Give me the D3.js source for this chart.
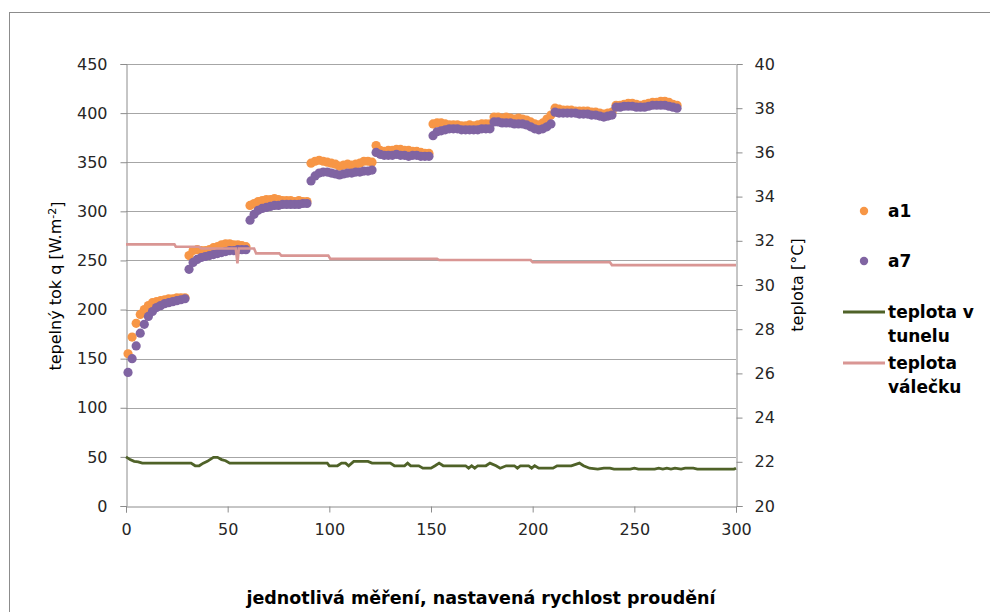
<!DOCTYPE html>
<html>
<head>
<meta charset="utf-8">
<script src="https://cdn.jsdelivr.net/npm/d3@7"></script>
<style>
  body { margin: 0; background: #fff; }
  svg { display: block; font-family: "DejaVu Sans", sans-serif; }
</style>
</head>
<body>
<svg id="chart" width="990" height="612"></svg>
<script>
// measurement number (x) for the a1 / a7 points
const measure = [
  1, 3, 5, 7, 9, 11, 13, 15, 17, 19, 21, 23, 25, 27, 29,
  31, 33, 35, 37, 39, 41, 43, 45, 47, 49, 51, 53, 55, 57, 59,
  61, 63, 65, 67, 69, 71, 73, 75, 77, 79, 81, 83, 85, 87, 89,
  91, 93, 95, 97, 99, 101, 103, 105, 107, 109, 111, 113, 115, 117, 119, 121,
  123, 125, 127, 129, 131, 133, 135, 137, 139, 141, 143, 145, 147, 149,
  151, 153, 155, 157, 159, 161, 163, 165, 167, 169, 171, 173, 175, 177, 179,
  181, 183, 185, 187, 189, 191, 193, 195, 197, 199, 201, 203, 205, 207, 209,
  211, 213, 215, 217, 219, 221, 223, 225, 227, 229, 231, 233, 235, 237, 239,
  241, 243, 245, 247, 249, 251, 253, 255, 257, 259, 261, 263, 265, 267, 269, 271
];

// heat flux q [W.m-2]
const a1 = [
  155, 172, 186, 195, 200, 204, 207, 208, 209, 210, 211, 211, 212, 212, 212,
  255, 260, 261, 260, 260, 261, 263, 264, 266, 267, 267, 266, 266, 265, 264,
  306, 308, 310, 311, 312, 312, 313, 312, 311, 311, 311, 310, 311, 310, 310,
  349, 351, 352, 351, 350, 349, 348, 346, 347, 348, 347, 348, 349, 351, 351, 350,
  367, 362, 361, 362, 362, 363, 363, 362, 362, 361, 361, 360, 359, 359,
  389, 390, 390, 389, 388, 388, 388, 387, 387, 388, 387, 388, 389, 389, 389,
  396, 396, 395, 396, 395, 394, 395, 394, 393, 391, 389, 388, 390, 394, 398,
  405, 404, 403, 403, 403, 402, 402, 402, 402, 401, 401, 400, 399, 400, 401,
  408, 408, 409, 410, 410, 409, 408, 409, 410, 411, 411, 412, 412, 411, 409, 408
];
const a7 = [
  136, 150, 163, 176, 185, 193, 198, 202, 204, 206, 207, 208, 209, 210, 211,
  241, 248, 251, 253, 254, 255, 256, 257, 258, 259, 260, 260, 261, 261, 261,
  291, 297, 301, 303, 304, 305, 306, 306, 307, 307, 307, 307, 307, 308, 308,
  331, 336, 339, 340, 340, 339, 338, 337, 338, 339, 339, 340, 340, 341, 341, 342,
  360, 358, 357, 357, 357, 358, 357, 357, 356, 357, 357, 356, 356, 356,
  377, 381, 382, 383, 384, 384, 384, 383, 383, 383, 383, 383, 384, 384, 384,
  391, 391, 390, 390, 390, 389, 389, 389, 388, 386, 384, 383, 384, 386, 389,
  401, 400, 400, 400, 400, 400, 399, 399, 399, 398, 398, 397, 396, 397, 398,
  406, 406, 407, 407, 407, 406, 406, 406, 407, 408, 408, 408, 408, 407, 406, 405
];

// tunnel temperature [°C] (line vertices)
const tunnelX = [0, 2, 4, 6, 8, 32, 34, 36, 38, 40, 43, 45, 47, 49, 51, 99, 100, 104, 106, 108,
  109.5, 112, 119, 121, 130, 132, 137, 138.5, 140, 144, 146, 150, 152, 154, 156, 167, 168.5, 170,
  171.5, 173, 177, 179, 182, 184, 187, 191, 192.5, 194, 198, 199.5, 201, 203, 210, 212, 219, 223,
  225, 228, 232, 235, 238, 240, 248, 250, 252, 260, 262, 264, 266, 268, 270, 273, 275, 279, 281,
  299, 300];
const tunnelT = [22.22, 22.1, 22.02, 22.0, 21.94, 21.94, 21.82, 21.82, 21.94, 22.02, 22.2, 22.2,
  22.1, 22.05, 21.94, 21.94, 21.82, 21.82, 21.94, 21.94, 21.82, 22.02, 22.02, 21.94, 21.94, 21.82,
  21.82, 21.94, 21.82, 21.82, 21.71, 21.71, 21.82, 21.94, 21.82, 21.82, 21.71, 21.82, 21.71, 21.82,
  21.82, 21.94, 21.82, 21.71, 21.82, 21.82, 21.71, 21.82, 21.82, 21.71, 21.82, 21.71, 21.71, 21.82,
  21.82, 21.94, 21.82, 21.71, 21.67, 21.71, 21.71, 21.67, 21.67, 21.71, 21.67, 21.67, 21.71, 21.67,
  21.71, 21.67, 21.71, 21.67, 21.71, 21.71, 21.67, 21.67, 21.71];

// roller temperature [°C] (line vertices)
const rollerX = [0, 23.8, 24.5, 36, 37, 54, 54.8, 55.5, 63, 64, 75.4, 76.4, 99.5, 100.5, 153, 154,
  199, 200, 238, 239, 300];
const rollerT = [31.84, 31.84, 31.73, 31.73, 31.65, 31.65, 30.98, 31.65, 31.65, 31.43, 31.43, 31.33,
  31.33, 31.18, 31.18, 31.13, 31.13, 31.03, 31.03, 30.9, 30.9];

const xTicks = [0, 50, 100, 150, 200, 250, 300];
const qTicks = [0, 50, 100, 150, 200, 250, 300, 350, 400, 450];
const tTicks = [20, 22, 24, 26, 28, 30, 32, 34, 36, 38, 40];

const colA1 = "#f79646", colA7 = "#8064a2", colTunnel = "#4f6228", colRoller = "#d99694";

const svg = d3.select("#chart");
const plotLeft = 126, plotRight = 736, plotTop = 64, plotBottom = 506;
const dotR = 4.6;

// outer frame
svg.append("rect")
  .attr("x", 9.5).attr("y", 12.5)
  .attr("width", 1000).attr("height", 700)
  .attr("fill", "none").attr("stroke", "#8c8c8c");

const x = d3.scaleLinear().domain([0, 300]).range([plotLeft, plotRight]);
const yQ = d3.scaleLinear().domain([0, 450]).range([plotBottom, plotTop]);
const yT = d3.scaleLinear().domain([20, 40]).range([plotBottom, plotTop]);

// gridlines
svg.append("g").selectAll("line")
  .data(qTicks.slice(1))
  .enter().append("line")
  .attr("x1", plotLeft).attr("x2", plotRight)
  .attr("y1", d => Math.round(yQ(d)) + 0.5).attr("y2", d => Math.round(yQ(d)) + 0.5)
  .attr("stroke", "#a6a6a6");

// axes
const gx = svg.append("g")
  .attr("transform", `translate(0, ${plotBottom + 0.5})`)
  .call(d3.axisBottom(x).tickValues(xTicks).tickSize(6).tickPadding(6));
const gl = svg.append("g")
  .attr("transform", `translate(${plotLeft + 0.5}, 0)`)
  .call(d3.axisLeft(yQ).tickValues(qTicks).tickSize(6).tickPadding(13));
const gr = svg.append("g")
  .attr("transform", `translate(${plotRight + 0.5}, 0)`)
  .call(d3.axisRight(yT).tickValues(tTicks).tickSize(6).tickPadding(12));

[gx, gl, gr].forEach(g => {
  g.select(".domain").attr("stroke", "#8c8c8c");
  g.selectAll(".tick line").attr("stroke", "#8c8c8c");
  g.selectAll(".tick text")
    .attr("fill", "#262626")
    .style("font-family", "DejaVu Sans, sans-serif")
    .style("font-size", "16px");
});
gx.selectAll(".tick text").attr("dy", "1.05em");

// scatter series
const pts = measure.map((m, i) => ({ m: m, a1: a1[i], a7: a7[i] }));

svg.append("g").selectAll("circle")
  .data(pts)
  .enter().append("circle")
  .attr("cx", d => x(d.m))
  .attr("cy", d => yQ(d.a1))
  .attr("r", dotR)
  .attr("fill", colA1);

svg.append("g").selectAll("circle")
  .data(pts)
  .enter().append("circle")
  .attr("cx", d => x(d.m))
  .attr("cy", d => yQ(d.a7))
  .attr("r", dotR)
  .attr("fill", colA7);

// temperature lines
const lineT = d3.line().x(d => x(d[0])).y(d => yT(d[1]));

svg.append("path")
  .datum(rollerX.map((v, i) => [v, rollerT[i]]))
  .attr("d", lineT)
  .attr("fill", "none")
  .attr("stroke", colRoller)
  .attr("stroke-width", 2.6);

svg.append("path")
  .datum(tunnelX.map((v, i) => [v, tunnelT[i]]))
  .attr("d", lineT)
  .attr("fill", "none")
  .attr("stroke", colTunnel)
  .attr("stroke-width", 2.8);

// axis titles
const qTitle = svg.append("text")
  .attr("transform", "translate(61, 286) rotate(-90)")
  .attr("text-anchor", "middle")
  .attr("fill", "#000")
  .style("font-size", "16px");
qTitle.append("tspan").text("tepelný tok q [W.m");
qTitle.append("tspan").attr("dy", "-0.45em").style("font-size", "11px").text("-2");
qTitle.append("tspan").attr("dy", "0.45em").text("]");

svg.append("text")
  .attr("transform", "translate(803, 285) rotate(-90)")
  .attr("text-anchor", "middle")
  .attr("fill", "#000")
  .style("font-size", "16px")
  .text("teplota [°C]");

svg.append("text")
  .attr("x", 481).attr("y", 604)
  .attr("text-anchor", "middle")
  .attr("fill", "#000")
  .style("font-size", "17.5px")
  .style("font-weight", "bold")
  .text("jednotlivá měření, nastavená rychlost proudění");

// legend
const legend = [
  { type: "dot", color: colA1, lines: ["a1"], y: 211 },
  { type: "dot", color: colA7, lines: ["a7"], y: 261 },
  { type: "line", color: colTunnel, lines: ["teplota v", "tunelu"], y: 312 },
  { type: "line", color: colRoller, lines: ["teplota", "válečku"], y: 363 }
];
const lg = svg.append("g");
legend.forEach(d => {
  if (d.type === "dot") {
    lg.append("circle").attr("cx", 864).attr("cy", d.y).attr("r", 4.2).attr("fill", d.color);
  } else {
    lg.append("line").attr("x1", 843).attr("x2", 885).attr("y1", d.y).attr("y2", d.y)
      .attr("stroke", d.color).attr("stroke-width", 3);
  }
  const t = lg.append("text")
    .attr("x", 888).attr("y", d.y + 6)
    .attr("fill", "#000")
    .style("font-size", "17px")
    .style("font-weight", "bold");
  d.lines.forEach((s, i) => {
    t.append("tspan").attr("x", 888).attr("dy", i === 0 ? 0 : 24).text(s);
  });
});
</script>
</body>
</html>
